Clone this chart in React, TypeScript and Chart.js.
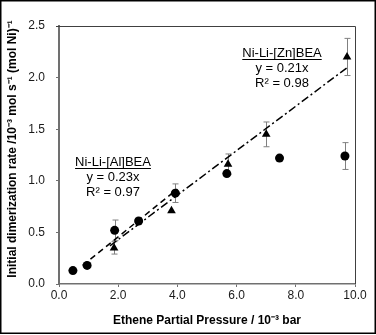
import React, { useEffect, useRef } from "react";
import { Chart, registerables } from "chart.js";

Chart.register(...registerables);

// Ni-Li-[Al]BEA (circles)
const alX = [0.47, 0.95, 1.88, 2.69, 3.93, 5.67, 7.45, 9.66];
const alY = [0.13, 0.18, 0.52, 0.61, 0.88, 1.07, 1.22, 1.24];
const alErr = [0, 0, 0.1, 0, 0.09, 0, 0, 0.13];

// Ni-Li-[Zn]BEA (triangles)
const znX = [1.86, 3.8, 5.71, 7.0, 9.73];
const znY = [0.35, 0.71, 1.16, 1.45, 2.2];
const znErr = [0.06, 0, 0.1, 0.12, 0.18];

// Trend lines (endpoints)
const alFitX = [0.8, 4.0];
const alFitY = [0.18, 0.92];
const znFitX = [1.72, 9.75];
const znFitY = [0.37, 2.1];

const xTicks = [0, 2, 4, 6, 8, 10];
const yTicks = [0, 0.5, 1.0, 1.5, 2.0, 2.5];

const alLabel = ["Ni-Li-[Al]BEA", "y = 0.23x", "R\u00B2 = 0.97"];
const znLabel = ["Ni-Li-[Zn]BEA", "y = 0.21x", "R\u00B2 = 0.98"];

const xTitle = "Ethene Partial Pressure / 10\u207B\u00B3 bar";
const yTitle = "Initial dimerization rate /10\u207B\u00B3 mol s\u207B\u00B9 (mol Ni)\u207B\u00B9";

const FONT = "'Liberation Sans', Arial, sans-serif";

const toPts = (xs: number[], ys: number[]) => xs.map((x, i) => ({ x, y: ys[i] }));

export default function App() {
  const ref = useRef<HTMLCanvasElement | null>(null);

  useEffect(() => {
    document.body.style.margin = "0";
    const canvas = ref.current;
    if (!canvas) return;

    const extras = {
      id: "extras",
      beforeDatasetsDraw(chart: any) {
        const { ctx, scales } = chart;
        const xs = scales.x;
        const ys = scales.y;
        ctx.save();
        ctx.strokeStyle = "#808080";
        ctx.lineWidth = 1;
        const bar = (x: number, y: number, e: number) => {
          if (!e) return;
          const px = Math.round(xs.getPixelForValue(x)) + 0.5;
          const top = ys.getPixelForValue(y + e);
          const bot = ys.getPixelForValue(y - e);
          ctx.beginPath();
          ctx.moveTo(px, top);
          ctx.lineTo(px, bot);
          ctx.moveTo(px - 3, top);
          ctx.lineTo(px + 3, top);
          ctx.moveTo(px - 3, bot);
          ctx.lineTo(px + 3, bot);
          ctx.stroke();
        };
        alX.forEach((x, i) => bar(x, alY[i], alErr[i]));
        znX.forEach((x, i) => bar(x, znY[i], znErr[i]));
        ctx.restore();
      },
      afterDraw(chart: any) {
        const { ctx, chartArea } = chart;
        ctx.save();
        // top and right frame of plot area
        ctx.strokeStyle = "#404040";
        ctx.lineWidth = 1;
        ctx.beginPath();
        ctx.moveTo(Math.round(chartArea.left) - 3, Math.round(chartArea.top) + 0.5);
        ctx.lineTo(Math.round(chartArea.right) + 0.5, Math.round(chartArea.top) + 0.5);
        ctx.lineTo(Math.round(chartArea.right) + 0.5, Math.round(chartArea.bottom));
        ctx.stroke();

        // text annotations
        ctx.fillStyle = "#000";
        ctx.font = `13px ${FONT}`;
        ctx.textAlign = "center";
        ctx.textBaseline = "middle";
        const block = (lines: string[], cx: number, ys: number[], uy: number) => {
          lines.forEach((t, i) => ctx.fillText(t, cx, ys[i]));
          const w = ctx.measureText(lines[0]).width;
          ctx.strokeStyle = "#000";
          ctx.lineWidth = 1;
          ctx.beginPath();
          ctx.moveTo(cx - w / 2, uy + 0.5);
          ctx.lineTo(cx + w / 2, uy + 0.5);
          ctx.stroke();
        };
        block(alLabel, 113, [162, 177, 192], 168);
        block(znLabel, 282, [53, 68, 83], 59);

        // y title
        ctx.save();
        ctx.font = `bold 12px ${FONT}`;
        ctx.translate(13, 149);
        ctx.rotate(-Math.PI / 2);
        ctx.fillText(yTitle, 0, 0);
        ctx.restore();

        // outer border
        ctx.strokeStyle = "#000";
        ctx.lineWidth = 1.5;
        ctx.strokeRect(0.75, 0.75, 374.5, 332.5);
        ctx.restore();
      },
    };

    const chart = new Chart(canvas, {
      type: "scatter",
      data: {
        datasets: [
          {
            label: "Al",
            data: toPts(alX, alY),
            pointStyle: "circle",
            pointRadius: 4.5,
            backgroundColor: "#000",
            borderColor: "#000",
            borderWidth: 0,
          },
          {
            label: "Zn",
            data: toPts(znX, znY),
            pointStyle: "triangle",
            pointRadius: 5,
            backgroundColor: "#000",
            borderColor: "#000",
            borderWidth: 0,
          },
          {
            label: "Al fit",
            type: "line",
            data: toPts(alFitX, alFitY),
            showLine: true,
            borderColor: "#000",
            borderWidth: 1.5,
            borderDash: [6, 4],
            pointRadius: 0,
            fill: false,
          } as any,
          {
            label: "Zn fit",
            type: "line",
            data: toPts(znFitX, znFitY),
            showLine: true,
            borderColor: "#000",
            borderWidth: 1.5,
            borderDash: [8, 3, 2, 3],
            pointRadius: 0,
            fill: false,
          } as any,
        ],
      },
      options: {
        animation: false,
        responsive: false,
        maintainAspectRatio: false,
        layout: { padding: { left: 0, right: 21, top: 26, bottom: 0 } },
        plugins: { legend: { display: false }, tooltip: { enabled: false } },
        scales: {
          x: {
            type: "linear",
            min: 0,
            max: 10,
            afterBuildTicks: (s: any) => {
              s.ticks = xTicks.map((v) => ({ value: v }));
            },
            afterFit: (s: any) => {
              s.height = 51;
            },
            ticks: {
              callback: (v: any) => Number(v).toFixed(1),
              font: { size: 12, family: FONT },
              color: "#1a1a1a",
              padding: 1,
              maxRotation: 0,
            },
            grid: { drawOnChartArea: false, tickLength: 3, color: "#707070" },
            border: { color: "#707070", width: 1.5 },
            title: {
              display: true,
              text: xTitle,
              font: { size: 12, weight: "bold", family: FONT },
              color: "#000",
              padding: { top: 0, bottom: 7 },
            },
          },
          y: {
            type: "linear",
            min: 0,
            max: 2.5,
            afterBuildTicks: (s: any) => {
              s.ticks = yTicks.map((v) => ({ value: v }));
            },
            afterFit: (s: any) => {
              s.width = 59;
            },
            ticks: {
              callback: (v: any) => Number(v).toFixed(1),
              font: { size: 12, family: FONT },
              color: "#1a1a1a",
              padding: 11,
            },
            grid: { drawOnChartArea: false, tickLength: 3, color: "#707070" },
            border: { color: "#707070", width: 2 },
          },
        },
      },
      plugins: [extras],
    });

    return () => chart.destroy();
  }, []);

  return (
    <div style={{ width: 376, height: 335 }}>
      <canvas ref={ref} width={376} height={335} style={{ display: "block", width: 376, height: 335 }} />
    </div>
  );
}
